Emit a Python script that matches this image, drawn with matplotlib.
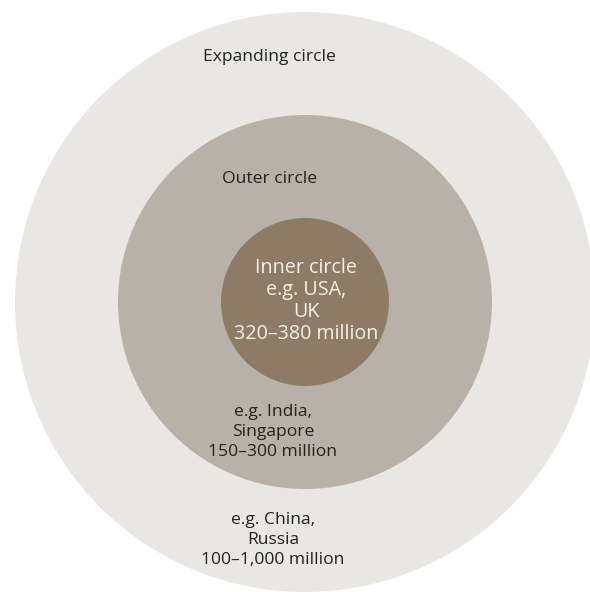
import matplotlib.pyplot as plt
from matplotlib.patches import Circle

# Kachru's three circles of English
circle_names = ["Expanding circle", "Outer circle", "Inner circle"]
radii = [290, 187, 84]
fills = ["#e9e7e4", "#b8b1a7", "#8d7b66"]

examples = ["e.g. China,\nRussia", "e.g. India,\nSingapore", "e.g. USA,\nUK"]
speakers = ["100\u20131,000 million", "150\u2013300 million", "320\u2013380 million"]

CX, CY = 305, 302

fig = plt.figure(figsize=(5.9, 5.92), dpi=100)
ax = fig.add_axes([0, 0, 1, 1])
ax.set_xlim(0, 590)
ax.set_ylim(592, 0)
ax.set_aspect("equal")
ax.axis("off")

for r, c in zip(radii, fills):
    ax.add_patch(Circle((CX, CY), r, facecolor=c, edgecolor="none"))

font = dict(family=["Open Sans", "DejaVu Sans"], fontsize=12.6, ha="center", va="center",
            linespacing=1.36)

# expanding circle: title at top, examples at bottom
ax.text(269, 57, circle_names[0], color="#222222", **font)
ax.text(273, 540, examples[0] + "\n" + speakers[0], color="#222222", **font)

# outer circle
ax.text(270, 179, circle_names[1], color="#222222", **font)
ax.text(273, 432, examples[1] + "\n" + speakers[1], color="#222222", **font)

# inner circle
font.update(fontsize=14.2, linespacing=1.12)
ax.text(306, 301, circle_names[2] + "\n" + examples[2] + "\n" + speakers[2],
        color="#f4f0e6", **font)

fig.savefig("out.png", dpi=100)
